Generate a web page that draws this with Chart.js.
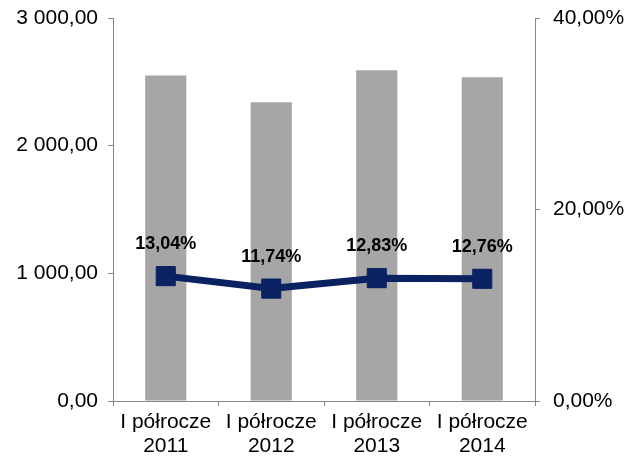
<!DOCTYPE html>
<html>
<head>
<meta charset="utf-8">
<script src="https://cdn.jsdelivr.net/npm/chart.js@4.4.0/dist/chart.umd.min.js"></script>
<style>
  html, body { margin: 0; padding: 0; background: #ffffff; }
  #wrap { width: 630px; height: 462px; }
</style>
</head>
<body>
<div id="wrap"><canvas id="chart" width="630" height="462"></canvas></div>
<script>
// dane wykresu
const categories = [['I półrocze', '2011'], ['I półrocze', '2012'], ['I półrocze', '2013'], ['I półrocze', '2014']];
const barValues = [2550, 2340, 2590, 2535];
const pctValues = [13.04, 11.74, 12.83, 12.76];
const leftTicks = [0, 1000, 2000, 3000];
const rightTicks = [0, 20, 40];

const FONT = "'Liberation Sans', Arial, sans-serif";
const AXIS_GREY = '#868686';

// format: 3 000,00
function fmtNum(v) {
  const parts = v.toFixed(2).split('.');
  const intPart = parts[0].replace(/\B(?=(\d{3})+(?!\d))/g, ' ');
  return intPart + ',' + parts[1];
}
function fmtPct(v) {
  return v.toFixed(2).replace('.', ',') + '%';
}

// etykiety danych nad punktami linii
const lineLabels = {
  id: 'lineLabels',
  afterDatasetsDraw(chart) {
    const ctx = chart.ctx;
    const meta = chart.getDatasetMeta(1);
    ctx.save();
    ctx.font = 'bold 18px ' + FONT;
    ctx.fillStyle = '#000000';
    ctx.textAlign = 'center';
    ctx.textBaseline = 'middle';
    meta.data.forEach((pt, i) => {
      ctx.fillText(fmtPct(pctValues[i]), pt.x, pt.y - 32);
    });
    ctx.restore();
  }
};

// stały obszar wykresu
function fixV(width) {
  return s => { s.width = width; s.paddingTop = 0; s.paddingBottom = 0; };
}

new Chart(document.getElementById('chart').getContext('2d'), {
  data: {
    labels: categories,
    datasets: [
      {
        type: 'bar',
        data: barValues,
        backgroundColor: '#A6A6A6',
        yAxisID: 'y',
        barPercentage: 0.39,
        categoryPercentage: 1.0,
        order: 2
      },
      {
        type: 'line',
        data: pctValues,
        borderColor: '#0B2262',
        backgroundColor: '#0B2262',
        borderWidth: 7,
        pointStyle: 'rect',
        pointRadius: 13.5,
        pointHoverRadius: 13.5,
        pointBorderWidth: 1,
        yAxisID: 'y2',
        order: 1
      }
    ]
  },
  options: {
    responsive: false,
    animation: false,
    layout: { padding: { top: 18, left: 0, right: 0, bottom: 0 } },
    plugins: {
      legend: { display: false },
      tooltip: { enabled: false }
    },
    scales: {
      x: {
        offset: true,
        grid: {
          offset: true,
          drawOnChartArea: false,
          drawTicks: true,
          tickLength: 5,
          color: AXIS_GREY
        },
        border: { display: true, color: AXIS_GREY, width: 1 },
        ticks: {
          color: '#000000',
          font: { family: FONT, size: 21, lineHeight: 1.15 },
          padding: 4,
          maxRotation: 0,
          autoSkip: false
        },
        afterFit(s) { s.height = 61; s.paddingLeft = 0; s.paddingRight = 0; }
      },
      y: {
        position: 'left',
        min: 0,
        max: 3000,
        afterBuildTicks(s) { s.ticks = leftTicks.map(v => ({ value: v })); },
        grid: {
          drawOnChartArea: false,
          drawTicks: true,
          tickLength: 5,
          color: AXIS_GREY
        },
        border: { display: true, color: AXIS_GREY, width: 1 },
        ticks: {
          color: '#000000',
          font: { family: FONT, size: 21 },
          padding: 10,
          callback: v => fmtNum(v)
        },
        afterFit: fixV(113)
      },
      y2: {
        position: 'right',
        min: 0,
        max: 40,
        afterBuildTicks(s) { s.ticks = rightTicks.map(v => ({ value: v })); },
        grid: {
          drawOnChartArea: false,
          drawTicks: true,
          tickLength: 5,
          color: AXIS_GREY
        },
        border: { display: true, color: AXIS_GREY, width: 1 },
        ticks: {
          color: '#000000',
          font: { family: FONT, size: 21 },
          padding: 13,
          callback: v => fmtPct(v)
        },
        afterFit: fixV(95)
      }
    }
  },
  plugins: [lineLabels]
});
</script>
</body>
</html>
